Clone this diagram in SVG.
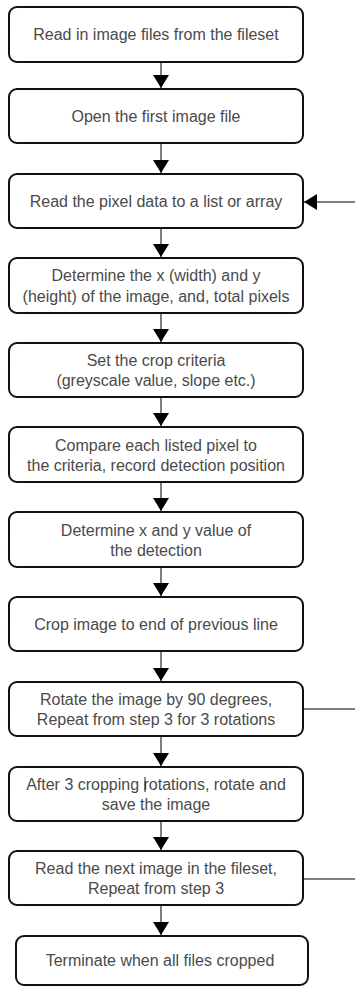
<svg xmlns="http://www.w3.org/2000/svg" width="355" height="987" viewBox="0 0 355 987">
<style>
.box{fill:#fff;stroke:#111;stroke-width:2;}
.t{font-family:"Liberation Sans",Arial,sans-serif;font-size:16px;fill:#4a4a4a;text-anchor:middle;}
.c{stroke:#555;stroke-width:1.5;fill:none;}
</style>
<defs>
<marker id="ah" markerUnits="userSpaceOnUse" markerWidth="14" markerHeight="16" refX="13" refY="8" orient="auto" viewBox="0 0 14 16">
<path d="M0,0 L13,8 L0,16 Z" fill="#000"/>
</marker>
</defs>
<rect width="355" height="987" fill="#fff"/>
<g id="connectors">
<line class="c" x1="161" y1="62" x2="161" y2="88" marker-end="url(#ah)"/>
<line class="c" x1="161" y1="143" x2="161" y2="173" marker-end="url(#ah)"/>
<line class="c" x1="161" y1="228" x2="161" y2="257" marker-end="url(#ah)"/>
<line class="c" x1="161" y1="313" x2="161" y2="342" marker-end="url(#ah)"/>
<line class="c" x1="161" y1="397" x2="161" y2="426" marker-end="url(#ah)"/>
<line class="c" x1="161" y1="482" x2="161" y2="511" marker-end="url(#ah)"/>
<line class="c" x1="161" y1="567" x2="161" y2="596" marker-end="url(#ah)"/>
<line class="c" x1="161" y1="651" x2="161" y2="681" marker-end="url(#ah)"/>
<line class="c" x1="161" y1="736" x2="161" y2="766" marker-end="url(#ah)"/>
<line class="c" x1="161" y1="821" x2="161" y2="850" marker-end="url(#ah)"/>
<line class="c" x1="161" y1="905" x2="161" y2="935" marker-end="url(#ah)"/>
<line class="c" x1="355" y1="202" x2="304" y2="202" marker-end="url(#ah)"/>
<line class="c" x1="303" y1="709" x2="355" y2="709"/>
<line class="c" x1="303" y1="879" x2="355" y2="879"/>
</g>
<g id="n1"><rect class="box" x="9" y="7" width="294" height="55" rx="8"/><text class="t" x="156" y="40">Read in image files from the fileset</text></g>
<g id="n2"><rect class="box" x="9" y="89" width="294" height="54" rx="8"/><text class="t" x="156" y="122">Open the first image file</text></g>
<g id="n3"><rect class="box" x="9" y="174" width="294" height="54" rx="8"/><text class="t" x="156" y="207">Read the pixel data to a list or array</text></g>
<g id="n4"><rect class="box" x="9" y="258" width="294" height="55" rx="8"/><text class="t" x="156" y="281">Determine the x (width) and y</text><text class="t" x="156" y="302">(height) of the image, and, total pixels</text></g>
<g id="n5"><rect class="box" x="9" y="343" width="294" height="54" rx="8"/><text class="t" x="156" y="366">Set the crop criteria</text><text class="t" x="156" y="386">(greyscale value, slope etc.)</text></g>
<g id="n6"><rect class="box" x="9" y="427" width="294" height="55" rx="8"/><text class="t" x="156" y="451">Compare each listed pixel to</text><text class="t" x="156" y="471">the criteria, record detection position</text></g>
<g id="n7"><rect class="box" x="9" y="512" width="294" height="55" rx="8"/><text class="t" x="156" y="536">Determine x and y value of</text><text class="t" x="156" y="556">the detection</text></g>
<g id="n8"><rect class="box" x="9" y="597" width="294" height="54" rx="8"/><text class="t" x="156" y="630">Crop image to end of previous line</text></g>
<g id="n9"><rect class="box" x="9" y="682" width="294" height="54" rx="8"/><text class="t" x="156" y="705">Rotate the image by 90 degrees,</text><text class="t" x="156" y="725">Repeat from step 3 for 3 rotations</text></g>
<g id="n10"><rect class="box" x="9" y="767" width="294" height="54" rx="8"/><text class="t" x="156" y="790">After 3 cropping rotations, rotate and</text><text class="t" x="156" y="810">save the image</text><line x1="145" y1="777" x2="145" y2="792" stroke="#222" stroke-width="1"/></g>
<g id="n11"><rect class="box" x="9" y="851" width="294" height="54" rx="8"/><text class="t" x="156" y="874">Read the next image in the fileset,</text><text class="t" x="156" y="894">Repeat from step 3</text></g>
<g id="n12"><rect class="box" x="16" y="936" width="292" height="49" rx="8"/><text class="t" x="160" y="966">Terminate when all files cropped</text></g>
</svg>
